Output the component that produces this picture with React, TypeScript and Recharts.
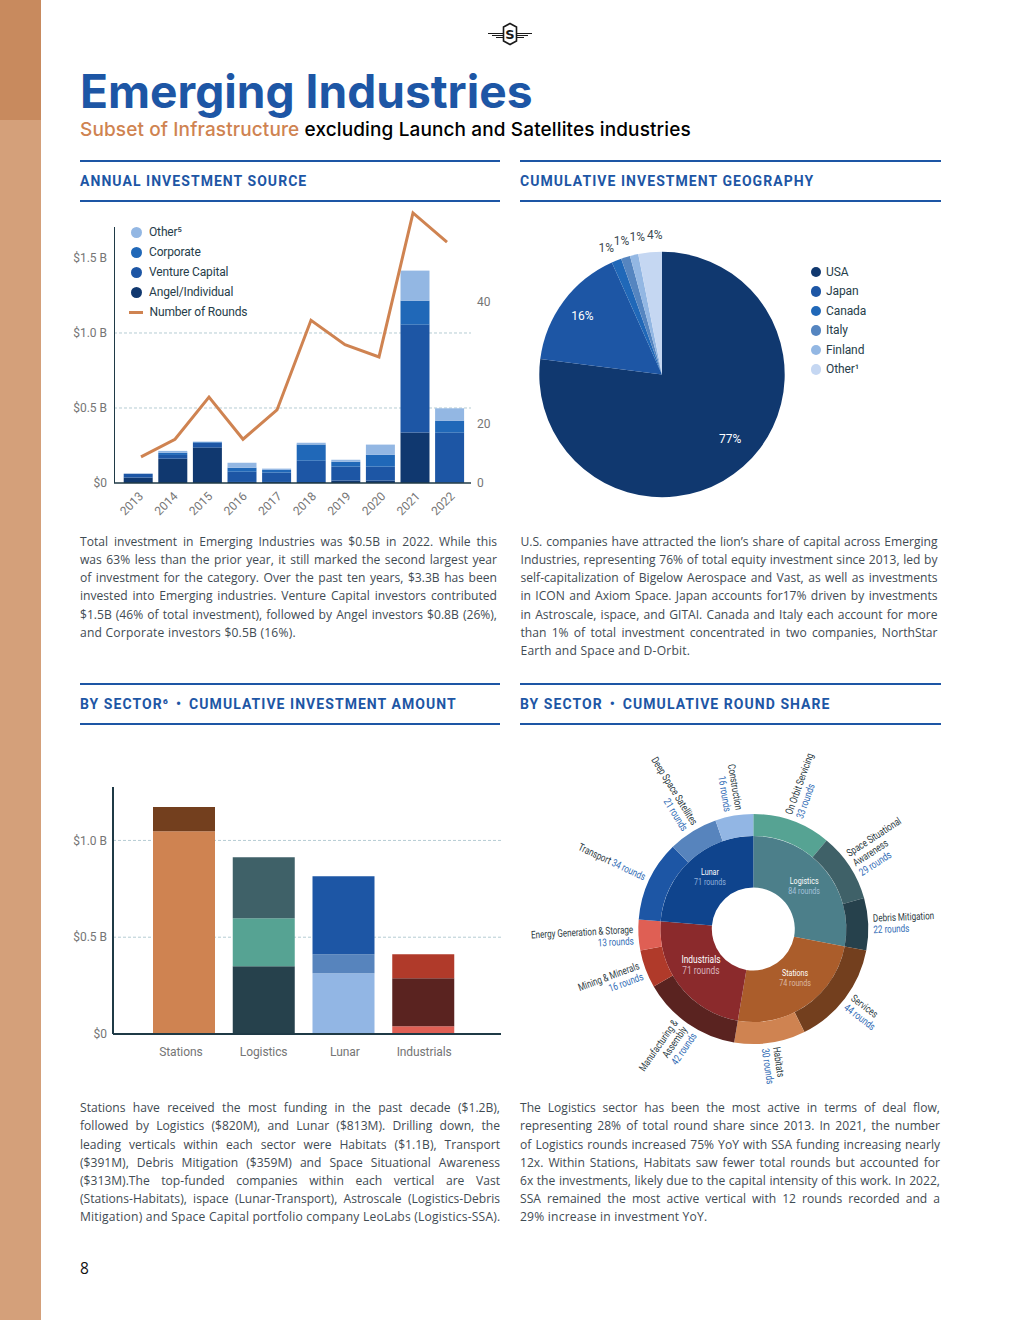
import React from "react";
import {
  BarChart, ComposedChart, Bar, Line, XAxis, YAxis, CartesianGrid, Legend, PieChart, Pie, Cell,
} from "recharts";

// ---------- Annual investment source ----------
const years = ["2013","2014","2015","2016","2017","2018","2019","2020","2021","2022"];
const angel = [0.036,0.162,0.236,0.007,0.007,0.007,0.016,0.016,0.336,0.004];
const venture = [0.026,0.025,0.031,0.068,0.062,0.142,0.093,0.093,0.72,0.332];
const corporate = [0,0.015,0.005,0.027,0.018,0.107,0.033,0.08,0.16,0.08];
const otherSource = [0,0.012,0.004,0.033,0.009,0.013,0.013,0.067,0.2,0.082];
const rounds = [14.6,17.5,24.4,17.5,22.3,37,33,31,54.6,49.8];
const amountTicks = [0,0.5,1,1.5];
const roundTickPositions = [10.33,20,40];
const roundTickLabels = ["0","20","40"];
const sourceLegendNames = ["Other⁵","Corporate","Venture Capital","Angel/Individual","Number of Rounds"];

// ---------- Geography ----------
const countries = ["USA","Japan","Canada","Italy","Finland","Other¹"];
const countryShares = [77,16.3,1.3,1.2,1.1,3.1];
const countryLabels = ["77%","16%","1%","1%","1%","4%"];

// ---------- Sector amounts ----------
const sectors = ["Stations","Logistics","Lunar","Industrials"];
const habitatsAmt = [1.047,0,0,0];
const servicesAmt = [0.126,0,0,0];
const debrisAmt = [0,0.35,0,0];
const onOrbitAmt = [0,0.248,0,0];
const ssaAmt = [0,0.315,0,0];
const constructionAmt = [0,0,0.314,0];
const deepSpaceAmt = [0,0,0.098,0];
const transportAmt = [0,0,0.403,0];
const energyAmt = [0,0,0,0.04];
const manufacturingAmt = [0,0,0,0.248];
const miningAmt = [0,0,0,0.124];

// ---------- Sector round share ----------
const innerNames = ["Logistics","Stations","Industrials","Lunar"];
const innerRounds = [84,74,71,71];
const verticalNames = [
  "On Orbit Servicing","Space Situational|Awareness","Debris Mitigation","Services","Habitats",
  "Manufacturing &|Assembly","Mining & Minerals","Energy Generation & Storage","Transport",
  "Deep Space Satellites","Construction",
];
const verticalRounds = [33,29,22,44,30,42,16,13,34,21,16];

const C = {
  angel:"#10386f", venture:"#1d56a5", corporate:"#2068b8", other:"#93b7e3", line:"#cf8351",
  italy:"#5585c0", paleBlue:"#c5d7f2", grid:"#b5ccd3", axis:"#1f3a46", tick:"#757575", ink:"#263d4a",
  habitats:"#cf8351", services:"#733f1e", debris:"#26414c", onOrbit:"#56a393", ssa:"#3f6168",
  construction:"#92b6e4", deep:"#5784bd", transport:"#1d56a5", energy:"#df5f54", manuf:"#5a2320", mining:"#b03a2a",
  logistics:"#4c7f8a", stations:"#ab5d2b", industrials:"#8b2a2c", lunar:"#0f448d",
};
const FONT = "Roboto, sans-serif";

const sourceRows = years.map((year,i)=>({year,angel:angel[i],venture:venture[i],corporate:corporate[i],other:otherSource[i],rounds:rounds[i]}));
const sectorRows = sectors.map((sector,i)=>({sector,
  habitats:habitatsAmt[i],services:servicesAmt[i],debris:debrisAmt[i],onOrbit:onOrbitAmt[i],ssa:ssaAmt[i],
  construction:constructionAmt[i],deep:deepSpaceAmt[i],transport:transportAmt[i],
  energy:energyAmt[i],manuf:manufacturingAmt[i],mining:miningAmt[i]}));
const sectorSeries: [string,string][] = [
  ["habitats",C.habitats],["services",C.services],["debris",C.debris],["onOrbit",C.onOrbit],["ssa",C.ssa],
  ["construction",C.construction],["deep",C.deep],["transport",C.transport],
  ["energy",C.energy],["manuf",C.manuf],["mining",C.mining],
];
const countryRows = countries.map((name,i)=>({name,value:countryShares[i]}));
const countryColors = [C.angel,C.venture,C.corporate,C.italy,C.other,C.paleBlue];
const innerRows = innerNames.map((name,i)=>({name,value:innerRounds[i]}));
const innerColors = [C.logistics,C.stations,C.industrials,C.lunar];
const innerRoundColors = ["#a3c2da","#dcb9a2","#d9b3bc","#8fb0dc"];
const outerRows = verticalNames.map((name,i)=>({name,value:verticalRounds[i]}));
const outerColors = [C.onOrbit,C.ssa,C.debris,C.services,C.habitats,C.manuf,C.mining,C.energy,C.transport,C.deep,C.construction];

const paragraphs: {x:number;y:number;w:number;lines:string[]}[] = [
  {x:80,y:532.7,w:417,lines:[
    "Total investment in Emerging Industries was $0.5B in 2022. While this",
    "was 63% less than the prior year, it still marked the second largest year",
    "of investment for the category. Over the past ten years, $3.3B has been",
    "invested into Emerging industries. Venture Capital investors contributed",
    "$1.5B (46% of total investment), followed by Angel investors $0.8B (26%),",
    "and Corporate investors $0.5B (16%).",
  ]},
  {x:520.5,y:532.7,w:417,lines:[
    "U.S. companies have attracted the lion’s share of capital across Emerging",
    "Industries, representing 76% of total equity investment since 2013, led by",
    "self-capitalization of Bigelow Aerospace  and Vast, as well as investments",
    "in ICON and Axiom Space. Japan accounts for17% driven by investments",
    "in Astroscale, ispace, and GITAI. Canada and Italy each account for more",
    "than 1% of total investment concentrated in two companies, NorthStar",
    "Earth and Space and D-Orbit.",
  ]},
  {x:80,y:1099.2,w:420,lines:[
    "Stations have received the most funding in the past decade ($1.2B),",
    "followed by Logistics ($820M), and Lunar ($813M). Drilling down, the",
    "leading verticals within each sector were Habitats ($1.1B), Transport",
    "($391M), Debris Mitigation ($359M) and Space Situational Awareness",
    "($313M).The top-funded companies within each vertical are Vast",
    "(Stations-Habitats), ispace (Lunar-Transport), Astroscale (Logistics-Debris",
    "Mitigation) and Space Capital portfolio company LeoLabs (Logistics-SSA).",
  ]},
  {x:520,y:1099.2,w:420,lines:[
    "The Logistics sector has been the most active in terms of deal flow,",
    "representing 28% of total round share since 2013. In 2021, the number",
    "of Logistics rounds increased 75% YoY with SSA funding increasing nearly",
    "12x. Within Stations, Habitats saw fewer total rounds but accounted for",
    "6x the investments, likely due to the capital intensity of this work. In 2022,",
    "SSA remained the most active vertical with 12 rounds recorded and a",
    "29% increase in investment YoY.",
  ]},
];

const abs = (x:number,y:number,w?:number,h?:number):React.CSSProperties => ({position:"absolute",left:x,top:y,width:w,height:h});

function Rule({x,y}:{x:number;y:number}){ return <div style={{...abs(x,y,x===80?420:421,2),background:C.venture}}/>; }
function SectionHead({x,y,text}:{x:number;y:number;text:string}){
  return <div style={{...abs(x,y),fontFamily:FONT,fontWeight:700,fontSize:14,letterSpacing:1.05,color:C.venture,lineHeight:"18px",whiteSpace:"pre"}}>{text}</div>;
}
function Paragraph({x,y,w,lines}:{x:number;y:number;w:number;lines:string[]}){
  return <div style={{...abs(x,y,w),fontFamily:"'Open Sans', sans-serif",fontSize:12.1,color:"#3f4b53",lineHeight:"18.2px"}}>
    {lines.map((l,i)=>{
      const last=i===lines.length-1;
      return <div key={i} style={{textAlign:last?"left":"justify",textAlignLast:last?"left":"justify",whiteSpace:"nowrap",letterSpacing:last?0.2:0}}>{l}</div>;
    })}
  </div>;
}

function polar(cx:number,cy:number,r:number,cw:number){
  const a = cw*Math.PI/180;
  return {x:cx+r*Math.sin(a),y:cy-r*Math.cos(a)};
}

const SourceLegend = () => {
  const colors=[C.other,C.corporate,C.venture,C.angel];
  return <div style={{fontFamily:FONT,fontSize:12,letterSpacing:-0.15,color:C.ink}}>
    {sourceLegendNames.map((n,i)=><div key={n} style={{display:"flex",alignItems:"center",height:20,whiteSpace:"nowrap"}}>
      {i<4 ? <span style={{width:11,height:11,borderRadius:6,background:colors[i],margin:"0 7px 0 1px",display:"inline-block"}}/>
           : <span style={{width:14,height:3,background:C.line,margin:"0 6.5px 0 -1px",display:"inline-block"}}/>}
      <span>{n}</span>
    </div>)}
  </div>;
};
const CountryLegend = () => <div style={{fontFamily:FONT,fontSize:12,letterSpacing:-0.1,color:C.ink}}>
  {countries.map((n,i)=><div key={n} style={{display:"flex",alignItems:"center",height:19.5,whiteSpace:"nowrap"}}>
    <span style={{width:10.5,height:10.5,borderRadius:6,background:countryColors[i],marginRight:5,display:"inline-block"}}/>
    <span>{n}</span>
  </div>)}
</div>;

function YearTick({x,y,payload}:any){
  return <text transform={`translate(${x+6},${y+6}) rotate(-45)`} textAnchor="end" fontFamily={FONT} fontSize={12} fill={C.tick}>{payload.value}</text>;
}

function SourceChart(){
  return <ComposedChart width={440} height={320} data={sourceRows} margin={{top:5,right:0,bottom:0,left:0}}>
    <CartesianGrid yAxisId="amount" xAxisId="bars" vertical={false} horizontalValues={[0.5,1]} stroke={C.grid} strokeDasharray="3 2"/>
    <XAxis xAxisId="bars" dataKey="year" height={37} padding={{left:6.7,right:4.3}} interval={0} tickLine={false} axisLine={{stroke:C.axis,strokeWidth:1.5}} tick={<YearTick/>}/>
    <XAxis xAxisId="line" dataKey="year" hide padding={{left:10,right:7}}/>
    <YAxis yAxisId="amount" width={54} domain={[0,1.8533]} ticks={amountTicks} interval={0} axisLine={false} tickLine={false} tickMargin={1}
      tick={{fontFamily:FONT,fontSize:12,fill:C.tick}} tickFormatter={(v:number)=>v===0?"$0":`$${v.toFixed(1)} B`}/>
    <YAxis yAxisId="rounds" orientation="right" width={29} domain={[10.33,55.9]} ticks={roundTickPositions} interval={0} axisLine={false} tickLine={false} tickMargin={0}
      tick={{fontFamily:FONT,fontSize:12,fill:C.tick}} tickFormatter={(v:number)=>roundTickLabels[roundTickPositions.indexOf(v)]}/>
    <Bar xAxisId="bars" yAxisId="amount" dataKey="angel" stackId="a" barSize={29} fill={C.angel} isAnimationActive={false}/>
    <Bar xAxisId="bars" yAxisId="amount" dataKey="venture" stackId="a" barSize={29} fill={C.venture} isAnimationActive={false}/>
    <Bar xAxisId="bars" yAxisId="amount" dataKey="corporate" stackId="a" barSize={29} fill={C.corporate} isAnimationActive={false}/>
    <Bar xAxisId="bars" yAxisId="amount" dataKey="other" stackId="a" barSize={29} fill={C.other} isAnimationActive={false}/>
    <Line xAxisId="line" yAxisId="rounds" dataKey="rounds" stroke={C.line} strokeWidth={3} dot={false} type="linear" isAnimationActive={false}/>
    <Legend layout="horizontal" verticalAlign="middle" align="center" content={<SourceLegend/>} wrapperStyle={{left:70,top:22,width:"auto",height:"auto",bottom:"auto"}}/>
  </ComposedChart>;
}

const geoRadius=[94,99,138,139,140,140];
const geoTurn=[-5,0,-2,0.4,3,2.6];
function geoLabel(p:any){
  const cw=((90-p.midAngle)%360+360)%360+geoTurn[p.index];
  const {x,y}=polar(p.cx,p.cy,geoRadius[p.index],cw);
  return <text x={x} y={y+4} textAnchor="middle" fontFamily={FONT} fontSize={12} fill={p.index<2?"#ffffff":"#3d4a52"}>{countryLabels[p.index]}</text>;
}
function GeoChart(){
  return <PieChart width={430} height={285} margin={{top:0,right:0,bottom:0,left:0}}>
    <Pie data={countryRows} dataKey="value" nameKey="name" cx={142} cy={154.5} innerRadius={0} outerRadius={122.7} startAngle={90} endAngle={-270} stroke="none" label={geoLabel} labelLine={false} isAnimationActive={false}>
      {countryRows.map((_,i)=><Cell key={i} fill={countryColors[i]}/>)}
    </Pie>
    <Legend layout="horizontal" verticalAlign="middle" align="center" content={<CountryLegend/>} wrapperStyle={{left:290.5,top:42,width:"auto",height:"auto",bottom:"auto"}}/>
  </PieChart>;
}

const sectorTickShift=[-3,0,1.5,1];
function SectorTick({x,y,payload,index}:any){
  return <text x={x+sectorTickShift[index]} y={y+14} textAnchor="middle" fontFamily={FONT} fontSize={12} letterSpacing={-0.1} fill={C.tick}>{payload.value}</text>;
}
function SectorChart(){
  return <BarChart width={450} height={310} data={sectorRows} margin={{top:17,right:9,bottom:0,left:0}}>
    <CartesianGrid vertical={false} horizontalValues={[0.5,1]} stroke={C.grid} strokeDasharray="3 2"/>
    <XAxis dataKey="sector" height={46} padding={{left:31,right:38}} interval={0} tickLine={false} axisLine={{stroke:C.axis,strokeWidth:2}} tick={<SectorTick/>}/>
    <YAxis width={53} domain={[0,1.276]} ticks={[0,0.5,1]} interval={0} tickLine={false} axisLine={{stroke:C.axis,strokeWidth:2}} tickMargin={0}
      tick={{fontFamily:FONT,fontSize:12,fill:C.tick}} tickFormatter={(v:number)=>v===0?"$0":`$${v.toFixed(1)} B`}/>
    {sectorSeries.map(([k,c])=><Bar key={k} dataKey={k} stackId="s" barSize={62} fill={c} isAnimationActive={false}/>)}
  </BarChart>;
}

const innerRadiusAt=[67,64,63,68];
const innerTurn=[-1,-6,4,3];
const innerSize=[8.5,8.5,10,8.5];
function innerLabel(p:any){
  const cw=((90-p.midAngle)%360+360)%360+innerTurn[p.index];
  const {x,y}=polar(p.cx,p.cy,innerRadiusAt[p.index],cw);
  const fs=innerSize[p.index];
  return <g transform={`translate(${x},${y}) scale(0.84,1)`} fontFamily={FONT} fontSize={fs} textAnchor="middle">
    <text y={-1.5}  fill="#ffffff">{innerNames[p.index]}</text>
    <text y={fs} fill={innerRoundColors[p.index]}>{innerRounds[p.index]} rounds</text>
  </g>;
}
const inlineLabels=["Transport"];
function outerLabel(p:any){
  const cw=((90-p.midAngle)%360+360)%360;
  const {x,y}=polar(p.cx,p.cy,120,cw);
  const right=cw<180;
  const rot=right?cw-90:cw-270;
  const name=verticalNames[p.index];
  const roundsText=`${verticalRounds[p.index]} rounds`;
  const blue="#2f6bb5";
  const dark="#2b3a42";
  const lh=11.5;
  if(inlineLabels.includes(name)){
    return <text transform={`translate(${x},${y}) rotate(${rot}) scale(0.77,1)`} y={3} textAnchor={right?"start":"end"} fontFamily={FONT} fontSize={10.5} fill={dark}>
      {name} <tspan fill={blue}>{roundsText}</tspan></text>;
  }
  const lines=name.split("|");
  const all=[...lines,roundsText];
  const start=-(all.length-1)*lh/2+3.5;
  return <g transform={`translate(${x},${y}) rotate(${rot}) scale(0.77,1)`} fontFamily={FONT} fontSize={10.5} textAnchor={right?"start":"end"}>
    {all.map((t,i)=><text key={i} y={start+i*lh} fill={i===all.length-1?blue:dark}>{t}</text>)}
  </g>;
}
function RoundShareChart(){
  return <PieChart width={425} height={350} margin={{top:0,right:0,bottom:0,left:0}}>
    <Pie data={innerRows} dataKey="value" nameKey="name" cx={233.3} cy={189} innerRadius={41.5} outerRadius={93} startAngle={90} endAngle={-270} stroke="none" label={innerLabel} labelLine={false} isAnimationActive={false}>
      {innerRows.map((_,i)=><Cell key={i} fill={innerColors[i]}/>)}
    </Pie>
    <Pie data={outerRows} dataKey="value" nameKey="name" cx={233.3} cy={189} innerRadius={93} outerRadius={115} startAngle={90} endAngle={-270} stroke="none" label={outerLabel} labelLine={false} isAnimationActive={false}>
      {outerRows.map((_,i)=><Cell key={i} fill={outerColors[i]}/>)}
    </Pie>
  </PieChart>;
}

function Logo(){
  return <svg style={abs(486,22,48,24)} viewBox="0 0 48 24">
    <g stroke="#1a1a1a" fill="none">
      <path d="M2 11.5H17M6 13.5H17M10 15.5H17M31 11.5H46M31 13.5H42M31 15.5H38" strokeWidth={1.1}/>
      <path d="M24 1.5L30.5 5V19L24 22.5L17.5 19V5Z" fill="#fff" strokeWidth={1.6}/>
    </g>
    <text x={24} y={17} textAnchor="middle" fontFamily="'DejaVu Sans', sans-serif" fontWeight={700} fontSize={13} fill="#1a1a1a">S</text>
  </svg>;
}

export default function App(){
  return <div style={{...abs(0,0,1020,1320),background:"#ffffff",overflow:"hidden"}}>
    <div style={{...abs(0,0,41,1320),background:"#d4a07a"}}/>
    <div style={{...abs(0,0,41,120),background:"#c88a5e"}}/>
    <Logo/>
    <div style={{...abs(80,61),fontFamily:"Inter, sans-serif",fontWeight:700,fontSize:46.1,color:C.venture,lineHeight:"60px",whiteSpace:"nowrap"}}>Emerging Industries</div>
    <div style={{...abs(80,117),fontFamily:"Inter, sans-serif",fontWeight:500,fontSize:19,letterSpacing:0.12,lineHeight:"26px",color:"#000",whiteSpace:"nowrap"}}>
      <span style={{color:C.line}}>Subset of Infrastructure</span> excluding Launch and Satellites industries
    </div>
    <Rule x={80} y={160}/><Rule x={520} y={160}/><Rule x={80} y={200}/><Rule x={520} y={200}/>
    <SectionHead x={80} y={172} text="ANNUAL INVESTMENT SOURCE"/>
    <SectionHead x={520} y={172} text="CUMULATIVE INVESTMENT GEOGRAPHY"/>
    <Rule x={80} y={683}/><Rule x={520} y={683}/><Rule x={80} y={723}/><Rule x={520} y={723}/>
    <SectionHead x={80} y={695} text={"BY SECTOR⁶ \u200a•\u200a CUMULATIVE INVESTMENT AMOUNT"}/>
    <SectionHead x={520} y={695} text={"BY SECTOR \u200a•\u200a CUMULATIVE ROUND SHARE"}/>

    <div style={abs(60,200,440,320)}>
      <SourceChart/>
      <div style={{...abs(53.5,27,1.5,256),background:C.axis}}/>
    </div>
    <div style={abs(520,220,430,285)}><GeoChart/></div>
    <div style={abs(60,770,450,310)}><SectorChart/></div>
    <div style={abs(520,740,425,350)}><RoundShareChart/></div>

    {paragraphs.map((p,i)=><Paragraph key={i} {...p}/>)}
    <div style={{...abs(80,1258),fontFamily:"'Open Sans', sans-serif",fontSize:15.5,color:"#111",lineHeight:"20px"}}>8</div>
  </div>;
}
